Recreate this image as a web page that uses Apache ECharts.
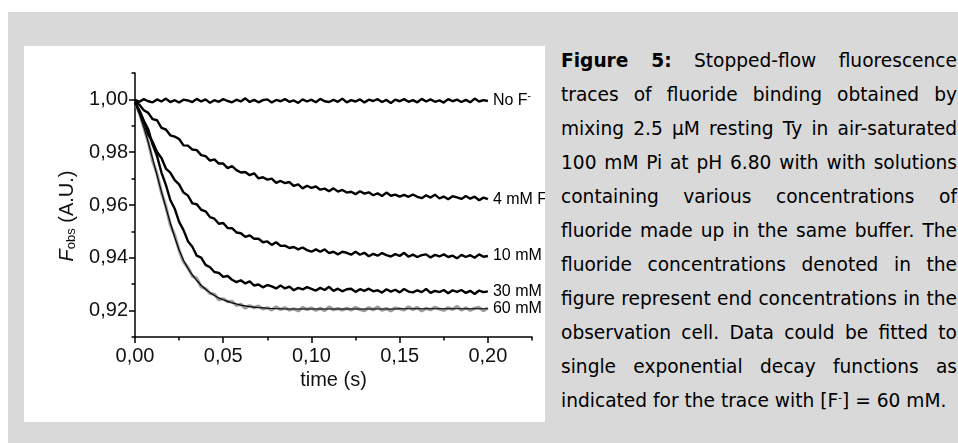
<!DOCTYPE html>
<html>
<head>
<meta charset="utf-8">
<script src="https://cdn.jsdelivr.net/npm/echarts@6.0.0/dist/echarts.min.js"></script>
<style>
  html, body { margin: 0; padding: 0; background: #ffffff; width: 958px; height: 443px; overflow: hidden; }
  #bg { position: absolute; left: 8px; top: 12px; right: 0; bottom: 0; background: #d9d9d9; }
  #chart { position: absolute; left: 24px; top: 46px; width: 521px; height: 376px; background: #ffffff; }
  #cap { position: absolute; left: 561px; top: 44px; width: 396px; font-family: "DejaVu Sans", Verdana, sans-serif; font-size: 18.6px; color: #000; }
  #cap .l { height: 34px; line-height: 34px; text-align: justify; text-align-last: justify; }
  #cap .last { text-align: left; text-align-last: left; }
  #cap sup { font-size: 11px; vertical-align: 6px; line-height: 0; }
</style>
</head>
<body>
<div id="bg"></div>
<div id="chart"></div>
<div id="cap">
  <div class="l"><b>Figure 5:</b> Stopped-flow fluorescence</div>
  <div class="l">traces of fluoride binding obtained by</div>
  <div class="l">mixing 2.5 μM resting Ty in air-saturated</div>
  <div class="l">100 mM Pi at pH 6.80 with with solutions</div>
  <div class="l">containing various concentrations of</div>
  <div class="l">fluoride made up in the same buffer. The</div>
  <div class="l">fluoride concentrations denoted in the</div>
  <div class="l">figure represent end concentrations in the</div>
  <div class="l">observation cell. Data could be fitted to</div>
  <div class="l">single exponential decay functions as</div>
  <div class="l last">indicated for the trace with [F<sup>-</sup>] = 60 mM.</div>
</div>
<script>
// ---- data ----
const timeS = [0,0.0025,0.005,0.0075,0.01,0.0125,0.015,0.0175,0.02,0.0225,0.025,0.0275,0.03,0.0325,0.035,0.0375,0.04,0.0425,0.045,0.0475,0.05,0.0525,0.055,0.0575,0.06,0.0625,0.065,0.0675,0.07,0.0725,0.075,0.0775,0.08,0.0825,0.085,0.0875,0.09,0.0925,0.095,0.0975,0.1,0.1025,0.105,0.1075,0.11,0.1125,0.115,0.1175,0.12,0.1225,0.125,0.1275,0.13,0.1325,0.135,0.1375,0.14,0.1425,0.145,0.1475,0.15,0.1525,0.155,0.1575,0.16,0.1625,0.165,0.1675,0.17,0.1725,0.175,0.1775,0.18,0.1825,0.185,0.1875,0.19,0.1925,0.195,0.1975,0.2];

const noF = [0.9998,0.9991,1.0001,0.9993,0.9989,1.0000,0.9992,1.0003,0.9990,0.9997,0.9988,0.9999,0.9996,0.9990,1.0002,0.9992,1.0000,0.9987,0.9997,0.9991,1.0001,0.9994,0.9989,0.9999,0.9992,1.0004,0.9990,0.9998,0.9989,0.9997,1.0000,0.9988,0.9998,0.9993,1.0001,0.9991,0.9996,0.9987,1.0000,0.9992,0.9999,0.9989,1.0002,0.9993,0.9990,0.9998,0.9991,1.0003,0.9989,0.9997,0.9992,1.0000,0.9988,0.9999,0.9994,1.0001,0.9990,0.9998,0.9986,0.9999,0.9993,1.0001,0.9991,0.9997,0.9989,1.0002,0.9992,1.0000,0.9991,0.9996,0.9988,1.0001,0.9993,0.9999,0.9990,0.9998,0.9989,1.0003,0.9992,0.9997,0.9994];

const f4mM = [0.9992,0.9980,0.9959,0.9949,0.9925,0.9921,0.9892,0.9886,0.9864,0.9859,0.9850,0.9826,0.9825,0.9810,0.9808,0.9789,0.9785,0.9768,0.9773,0.9757,0.9757,0.9740,0.9747,0.9732,0.9723,0.9725,0.9713,0.9720,0.9701,0.9705,0.9696,0.9700,0.9684,0.9691,0.9683,0.9687,0.9672,0.9678,0.9663,0.9673,0.9665,0.9670,0.9658,0.9662,0.9652,0.9663,0.9651,0.9657,0.9647,0.9650,0.9641,0.9652,0.9643,0.9648,0.9637,0.9644,0.9634,0.9647,0.9635,0.9639,0.9632,0.9638,0.9631,0.9640,0.9631,0.9626,0.9637,0.9628,0.9639,0.9625,0.9632,0.9622,0.9633,0.9629,0.9623,0.9634,0.9624,0.9632,0.9618,0.9628,0.9622];

const f10mM = [0.9990,0.9952,0.9916,0.9867,0.9839,0.9801,0.9778,0.9738,0.9723,0.9694,0.9678,0.9647,0.9636,0.9606,0.9603,0.9582,0.9576,0.9554,0.9548,0.9529,0.9532,0.9513,0.9512,0.9496,0.9493,0.9479,0.9485,0.9472,0.9472,0.9459,0.9462,0.9449,0.9459,0.9445,0.9446,0.9437,0.9441,0.9432,0.9439,0.9429,0.9423,0.9432,0.9423,0.9432,0.9418,0.9423,0.9413,0.9423,0.9419,0.9412,0.9423,0.9412,0.9419,0.9406,0.9415,0.9408,0.9418,0.9410,0.9405,0.9414,0.9407,0.9419,0.9404,0.9412,0.9403,0.9410,0.9413,0.9401,0.9411,0.9405,0.9413,0.9403,0.9408,0.9398,0.9411,0.9403,0.9410,0.9400,0.9413,0.9404,0.9407];

const f30mM = [0.9985,0.9959,0.9919,0.9887,0.9829,0.9785,0.9723,0.9676,0.9619,0.9586,0.9536,0.9505,0.9463,0.9442,0.9408,0.9401,0.9373,0.9364,0.9346,0.9343,0.9328,0.9331,0.9317,0.9308,0.9315,0.9303,0.9311,0.9295,0.9299,0.9288,0.9297,0.9292,0.9284,0.9295,0.9284,0.9291,0.9277,0.9286,0.9280,0.9289,0.9282,0.9276,0.9286,0.9278,0.9290,0.9275,0.9283,0.9273,0.9281,0.9283,0.9271,0.9281,0.9275,0.9283,0.9273,0.9277,0.9268,0.9281,0.9272,0.9279,0.9269,0.9282,0.9272,0.9269,0.9277,0.9270,0.9282,0.9267,0.9275,0.9270,0.9278,0.9266,0.9277,0.9271,0.9278,0.9267,0.9275,0.9263,0.9276,0.9270,0.9273];

const f60mM = [0.9989,0.9948,0.9893,0.9839,0.9767,0.9717,0.9647,0.9594,0.9526,0.9485,0.9428,0.9385,0.9363,0.9331,0.9322,0.9290,0.9283,0.9265,0.9262,0.9241,0.9245,0.9234,0.9235,0.9220,0.9224,0.9209,0.9219,0.9211,0.9217,0.9206,0.9211,0.9202,0.9214,0.9204,0.9211,0.9202,0.9207,0.9199,0.9212,0.9204,0.9210,0.9201,0.9209,0.9200,0.9214,0.9203,0.9208,0.9202,0.9209,0.9202,0.9212,0.9204,0.9200,0.9211,0.9203,0.9214,0.9201,0.9208,0.9199,0.9210,0.9207,0.9202,0.9214,0.9204,0.9212,0.9199,0.9209,0.9203,0.9213,0.9206,0.9201,0.9211,0.9204,0.9216,0.9202,0.9210,0.9201,0.9209,0.9212,0.9200,0.9210];

const fit60mM = [0.9990,0.9945,0.9895,0.9838,0.9775,0.9712,0.9650,0.9590,0.9532,0.9478,0.9430,0.9390,0.9360,0.9335,0.9314,0.9296,0.9281,0.9268,0.9257,0.9248,0.9241,0.9235,0.9229,0.9225,0.9221,0.9218,0.9215,0.9213,0.9211,0.9210,0.9209,0.9208,0.9207,0.9207,0.9206,0.9206,0.9206,0.9206,0.9206,0.9206,0.9206,0.9206,0.9206,0.9206,0.9206,0.9206,0.9206,0.9206,0.9206,0.9206,0.9206,0.9206,0.9206,0.9206,0.9206,0.9206,0.9206,0.9206,0.9206,0.9206,0.9207,0.9207,0.9207,0.9207,0.9207,0.9207,0.9207,0.9207,0.9207,0.9207,0.9207,0.9207,0.9207,0.9207,0.9207,0.9207,0.9207,0.9207,0.9207,0.9207,0.9207];

const xTickValues = [0, 0.05, 0.1, 0.15, 0.2];
const yTickValues = [0.92, 0.94, 0.96, 0.98, 1.00];
const traceLabels = ['{t|No F}{s|-}', '{t|4 mM F}{s|-}', '{t|10 mM}', '{t|30 mM}', '{t|60 mM}'];
const xTitle = 'time (s)';

// ---- chart ----
const FONT = '"Liberation Sans", Arial, sans-serif';
const comma = v => v.toFixed(2).replace('.', ',');
const pairs = vals => timeS.map((t, i) => [t, vals[i]]);
const labelRich = {
  t: { fontSize: 16, fontFamily: FONT, color: '#000' },
  s: { fontSize: 10, fontFamily: FONT, color: '#000', padding: [0, 0, 9, 0] }
};
function trace(vals, label, extra) {
  return Object.assign({
    type: 'line', xAxisIndex: 0, yAxisIndex: 0, data: pairs(vals),
    showSymbol: false, symbol: 'none', silent: true,
    lineStyle: { color: '#000', width: 2.4 },
    endLabel: label == null ? { show: false } : {
      show: true, formatter: () => label, distance: 5, rich: labelRich,
      fontFamily: FONT, fontSize: 16, color: '#000'
    },
    z: 3
  }, extra || {});
}

const chart = echarts.init(document.getElementById('chart'), null, { renderer: 'canvas' });
const axisLineStyle = { color: '#000', width: 1.5 };
chart.setOption({
  animation: false,
  backgroundColor: '#ffffff',
  grid: { left: 111, right: 13, top: 27, bottom: 85 },
  xAxis: [
    {
      type: 'value', min: 0, max: 0.225, interval: 0.05, position: 'bottom',
      axisLine: { show: true, onZero: false, lineStyle: axisLineStyle },
      axisTick: { show: true, length: 6, lineStyle: axisLineStyle, customValues: xTickValues },
      axisLabel: { customValues: xTickValues, formatter: comma, fontFamily: FONT, fontSize: 20, color: '#111', margin: 9 },
      splitLine: { show: false },
      name: xTitle, nameLocation: 'middle', nameGap: 33,
      nameTextStyle: { fontFamily: FONT, fontSize: 20, color: '#111' }
    },
    {
      type: 'value', min: 0, max: 0.225, interval: 0.025, position: 'bottom', offset: 0,
      axisLine: { show: false, onZero: false },
      axisTick: { show: true, length: 3.5, lineStyle: axisLineStyle },
      axisLabel: { show: false },
      splitLine: { show: false }
    }
  ],
  yAxis: [
    {
      type: 'value', min: 0.91, max: 1.01, interval: 0.01, position: 'left',
      axisLine: { show: true, onZero: false, lineStyle: axisLineStyle },
      axisTick: { show: true, length: 6, lineStyle: axisLineStyle, customValues: yTickValues },
      axisLabel: { customValues: yTickValues, formatter: comma, fontFamily: FONT, fontSize: 20, color: '#111', margin: 7 },
      splitLine: { show: false },
      name: '{i|F}{s|obs}{n| (A.U.)}', nameLocation: 'middle', nameGap: 55,
      nameTextStyle: {
        padding: [0, 22, 0, 0],
        rich: {
          i: { fontFamily: FONT, fontSize: 20, fontStyle: 'italic', color: '#111' },
          s: { fontFamily: FONT, fontSize: 13, color: '#111', padding: [9, 0, 0, 0] },
          n: { fontFamily: FONT, fontSize: 20, color: '#111' }
        }
      }
    },
    {
      type: 'value', min: 0.91, max: 1.01, interval: 0.01, position: 'left', offset: 0,
      axisLine: { show: false, onZero: false },
      axisTick: { show: true, length: 3.5, lineStyle: axisLineStyle },
      axisLabel: { show: false },
      splitLine: { show: false }
    }
  ],
  series: [
    trace(noF, traceLabels[0]),
    trace(f4mM, traceLabels[1]),
    trace(f10mM, traceLabels[2]),
    trace(f30mM, traceLabels[3]),
    trace(f60mM, null, { lineStyle: { color: '#9a9a9a', width: 3.2 }, z: 2 }),
    trace(fit60mM, traceLabels[4], { lineStyle: { color: '#000', width: 1.2 }, z: 4 })
  ]
});
</script>
</body>
</html>
